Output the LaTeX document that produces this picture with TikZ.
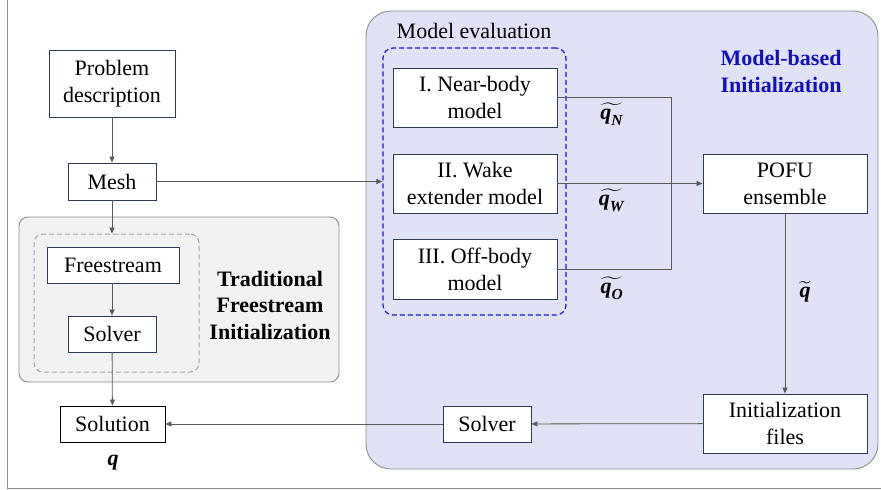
\documentclass[tikz,border=0pt]{standalone}
\usepackage{amsmath}
\usepackage{fontspec}
\setmainfont{Liberation Serif}
\newfontfamily\diagfont{Liberation Serif}
\usetikzlibrary{arrows.meta, positioning}

\definecolor{boxline}{HTML}{2B3A55}
\definecolor{flowline}{HTML}{5A5A5A}
\definecolor{modelfill}{HTML}{E1E2F6}
\definecolor{tradfill}{HTML}{F2F2F2}
\definecolor{groupline}{HTML}{8C8C8C}
\definecolor{evalblue}{HTML}{1A1AD0}
\definecolor{titleblue}{HTML}{1010C0}

\newcommand{\qvec}[1]{$\widetilde{\textbf{\textit{q}}_{\textbf{\textit{#1}}}}$}

\tikzset{
    stepnode/.style={draw=boxline, fill=white, align=center, inner sep=0pt, line width=0.9pt},
    flow/.style={draw=flowline, line width=0.8pt, -{Triangle[length=6pt,width=5pt]}},
    plainflow/.style={draw=flowline, line width=0.8pt},
    qlabel/.style={inner sep=0pt}
}

\begin{document}
\begin{tikzpicture}[x=1pt, y=-1pt, font=\diagfont\fontsize{22}{27}\selectfont]
    \useasboundingbox (0,0) rectangle (881,490);
    % Outer frame
    \draw[groupline, line width=1pt] (7,-10) rectangle (895,488);

    % Group panels
    \node[draw=groupline, fill=modelfill, rounded corners=25pt, line width=0.9pt,
          minimum width=512pt, minimum height=458pt, inner sep=0pt] (modelpanel) at (622,240) {};
    \node[draw=groupline, fill=tradfill, rounded corners=9pt, line width=0.9pt,
          minimum width=320pt, minimum height=165pt, inner sep=0pt] (tradpanel) at (179,299.5) {};
    \node[draw=groupline!80, dash pattern=on 5pt off 3pt, rounded corners=9pt, line width=1pt,
          minimum width=165pt, minimum height=138pt, inner sep=0pt] (tradgroup) at (116.5,303) {};
    \node[draw=evalblue, dash pattern=on 5pt off 3pt, rounded corners=10pt, line width=1.2pt,
          minimum width=183pt, minimum height=267pt, inner sep=0pt] (evalgroup) at (474.5,181.5) {};

    % Group titles
    \node (evaltitle) at (474,31) {Model evaluation};
    \node[titleblue, align=center, font=\diagfont\fontsize{22}{27}\bfseries] (modeltitle) at (781,71) {Model-based\\Initialization};
    \node[align=center, font=\diagfont\fontsize{22}{26.5}\bfseries] (tradtitle) at (270,305) {Traditional\\Freestream\\Initialization};

    % Left column
    \node[stepnode, minimum width=126pt, minimum height=67pt] (problem) at (112,83.5) {Problem\\description};
    \node[stepnode, minimum width=88pt, minimum height=37pt] (mesh) at (112,181.5) {Mesh};
    \node[stepnode, minimum width=132pt, minimum height=36pt] (freestream) at (113,265) {Freestream};
    \node[stepnode, minimum width=88pt, minimum height=36pt] (solverleft) at (112,334) {Solver};
    \node[stepnode, draw=black, minimum width=105pt, minimum height=36pt] (solution) at (112.5,424) {Solution};
    \node[qlabel] (qsol) at (113,463) {$\textbf{\textit{q}}$};

    % Models
    \node[stepnode, minimum width=164pt, minimum height=59pt] (nearbody) at (475,97.5) {I. Near-body\\model};
    \node[stepnode, minimum width=164pt, minimum height=59pt] (wake) at (475,183.5) {II. Wake\\extender model};
    \node[stepnode, minimum width=164pt, minimum height=60pt] (offbody) at (475,269) {III. Off-body\\model};

    % Right column
    \node[stepnode, minimum width=164pt, minimum height=59pt] (pofu) at (785,183.5) {POFU\\ensemble};
    \node[stepnode, minimum width=164pt, minimum height=59pt] (initfiles) at (785,423.5) {Initialization\\files};
    \node[stepnode, minimum width=88pt, minimum height=36pt] (solverright) at (487,424) {Solver};

    % Model outputs
    \node[qlabel] (qnear) at (612,114) {\qvec{N}};
    \node[qlabel] (qwake) at (612,200) {\qvec{W}};
    \node[qlabel] (qoff) at (612,288) {\qvec{O}};
    \node[qlabel] (qtilde) at (805,292) {$\widetilde{\textbf{\textit{q}}}$};
    \coordinate (join) at (671,0);

    % Connectors
    \draw[flow] (problem) -- (mesh);
    \draw[flow] (mesh.south) -- (tradgroup.north -| mesh.south);
    \draw[flow] (mesh.east) -- (mesh.east -| evalgroup.west);
    \draw[flow] (freestream.south -| solverleft.north) -- (solverleft.north);
    \draw[flow] (solverleft) -- (solution);
    \draw[plainflow] (nearbody.east) -- (nearbody.east -| join) -- (offbody.east -| join) -- (offbody.east);
    \draw[flow] (wake) -- (pofu);
    \draw[flow] (pofu.south) -- (initfiles.north);
    \draw[flow] (initfiles) -- (solverright);
    \draw[flow] (solverright) -- (solution);
\end{tikzpicture}
\end{document}
